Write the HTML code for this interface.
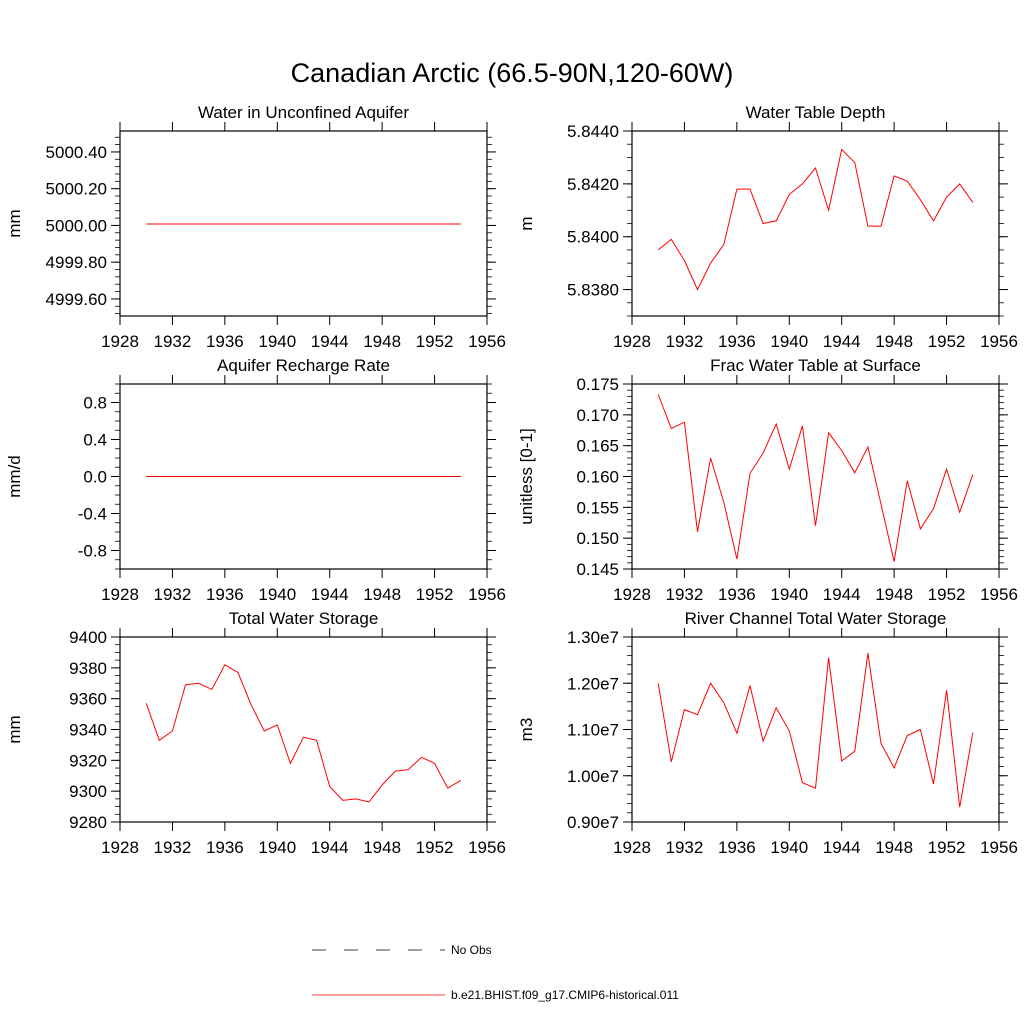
<!DOCTYPE html>
<html><head><meta charset="utf-8"><style>
body{margin:0;background:#fff}
svg text{font-family:"Liberation Sans",sans-serif;fill:#000}
</style></head><body>
<svg id="chart" width="1024" height="1024" xmlns="http://www.w3.org/2000/svg">
<text x="512" y="82" font-size="27" text-anchor="middle">Canadian Arctic (66.5-90N,120-60W)</text>
<line x1="312" y1="950" x2="445" y2="950" stroke="#000" stroke-width="0.8" stroke-dasharray="14,18"/>
<text x="451" y="954" font-size="12">No Obs</text>
<line x1="312" y1="995" x2="445" y2="995" stroke="#f00" stroke-width="0.8"/>
<text x="451" y="999" font-size="12">b.e21.BHIST.f09_g17.CMIP6-historical.011</text>
</svg>
<script>
const years=[1930,1931,1932,1933,1934,1935,1936,1937,1938,1939,1940,1941,1942,1943,1944,1945,1946,1947,1948,1949,1950,1951,1952,1953,1954];
const aquiferWater=years.map(()=>5000.008);
const rechargeRate=years.map(()=>0);
const waterTableDepth=[5.8395,5.8399,5.8391,5.8380,5.8390,5.8397,5.8418,5.8418,5.8405,5.8406,5.8416,5.8420,5.8426,5.8410,5.8433,5.8428,5.8404,5.8404,5.8423,5.8421,5.8414,5.8406,5.8415,5.8420,5.8413];
const fracWaterTable=[0.1733,0.1678,0.1688,0.1510,0.1630,0.1558,0.1466,0.1605,0.1638,0.1685,0.1612,0.1682,0.1520,0.1671,0.1642,0.1606,0.1648,0.1555,0.1462,0.1593,0.1515,0.1548,0.1612,0.1542,0.1603];
const totalWaterStorage=[9357,9333,9339,9369,9370,9366,9382,9377,9356,9339,9343,9318,9335,9333,9303,9294,9295,9293,9304,9313,9314,9322,9318,9302,9307];
const riverStorage=[1.200,1.030,1.143,1.132,1.200,1.158,1.092,1.195,1.075,1.147,1.097,0.985,0.973,1.255,1.032,1.053,1.265,1.070,1.017,1.087,1.100,0.982,1.185,0.932,1.093];
const xTicks=[1928,1932,1936,1940,1944,1948,1952,1956];

const NS="http://www.w3.org/2000/svg";
const svg=document.getElementById('chart');
function mk(tag,attrs){const e=document.createElementNS(NS,tag);for(const k in attrs)e.setAttribute(k,attrs[k]);svg.appendChild(e);return e;}

const panels=[
 {id:'aquifer-water',title:'Water in Unconfined Aquifer',ylab:'mm',x0:120,y0:131,ymin:4999.507,ymax:5000.514,major:[4999.6,4999.8,5000.0,5000.2,5000.4],minor:0.04,fmt:v=>v.toFixed(2),data:aquiferWater},
 {id:'water-table-depth',title:'Water Table Depth',ylab:'m',x0:632,y0:131,ymin:5.837,ymax:5.844,major:[5.838,5.840,5.842,5.844],minor:0.0005,fmt:v=>v.toFixed(4),data:waterTableDepth},
 {id:'recharge-rate',title:'Aquifer Recharge Rate',ylab:'mm/d',x0:120,y0:384,ymin:-1,ymax:1,major:[-0.8,-0.4,0,0.4,0.8],minor:0.1,fmt:v=>v.toFixed(1),data:rechargeRate},
 {id:'frac-water-table',title:'Frac Water Table at Surface',ylab:'unitless [0-1]',x0:632,y0:384,ymin:0.145,ymax:0.175,major:[0.145,0.15,0.155,0.16,0.165,0.17,0.175],minor:0.001,fmt:v=>v.toFixed(3),data:fracWaterTable},
 {id:'total-water-storage',title:'Total Water Storage',ylab:'mm',x0:120,y0:637,ymin:9280,ymax:9400,major:[9280,9300,9320,9340,9360,9380,9400],minor:5,fmt:v=>v.toFixed(0),data:totalWaterStorage},
 {id:'river-storage',title:'River Channel Total Water Storage',ylab:'m3',x0:632,y0:637,ymin:0.9,ymax:1.3,major:[0.9,1.0,1.1,1.2,1.3],minor:0.02,fmt:v=>v.toFixed(2)+'e7',data:riverStorage}
];
const W=367,H=185;
panels.forEach(p=>{
 const xs=v=>p.x0+(v-1928)/28*W;
 const ys=v=>p.y0+H-(v-p.ymin)/(p.ymax-p.ymin)*H;
 const t=mk('text',{x:p.x0+W/2,y:p.y0-13,'font-size':17,'text-anchor':'middle'});t.textContent=p.title;
 
 
 const yl=mk('text',{x:0,y:0,'font-size':17,'text-anchor':'middle',transform:`translate(${p.x0-100},${p.y0+H/2}) rotate(-90)`});yl.textContent=p.ylab;
 
 
 const fr=mk('rect',{x:p.x0,y:p.y0,width:W,height:H,fill:'none',stroke:'#000','stroke-width':1.2});
 
 
 xTicks.forEach(v=>{
  const x=xs(v);
  mk('line',{x1:x,y1:p.y0+H,x2:x,y2:p.y0+H+9,stroke:'#000'});
  mk('line',{x1:x,y1:p.y0,x2:x,y2:p.y0-9,stroke:'#000'});
  const l=mk('text',{x:x,y:p.y0+H+31,'font-size':17,'text-anchor':'middle'});l.textContent=v;
  
  
 });
 const n=Math.round((p.ymax-p.ymin)/p.minor);
 const start=Math.ceil(p.ymin/p.minor-1e-6);
 for(let i=start;i*p.minor<=p.ymax+1e-9;i++){
  const y=ys(i*p.minor);
  mk('line',{x1:p.x0,y1:y,x2:p.x0-5,y2:y,stroke:'#000','stroke-width':0.8});
  mk('line',{x1:p.x0+W,y1:y,x2:p.x0+W+5,y2:y,stroke:'#000','stroke-width':0.8});
 }
 p.major.forEach(v=>{
  const y=ys(v);
  mk('line',{x1:p.x0,y1:y,x2:p.x0-9,y2:y,stroke:'#000'});
  mk('line',{x1:p.x0+W,y1:y,x2:p.x0+W+9,y2:y,stroke:'#000'});
  const l=mk('text',{x:p.x0-13,y:y+6,'font-size':17,'text-anchor':'end'});l.textContent=p.fmt(v);
  
  
 });
 const pts=years.map((yr,i)=>xs(yr).toFixed(1)+','+ys(p.data[i]).toFixed(1)).join(' ');
 const pl=mk('polyline',{points:pts,fill:'none',stroke:'#f00','stroke-width':1});
 
 
});
</script>
</body></html>
